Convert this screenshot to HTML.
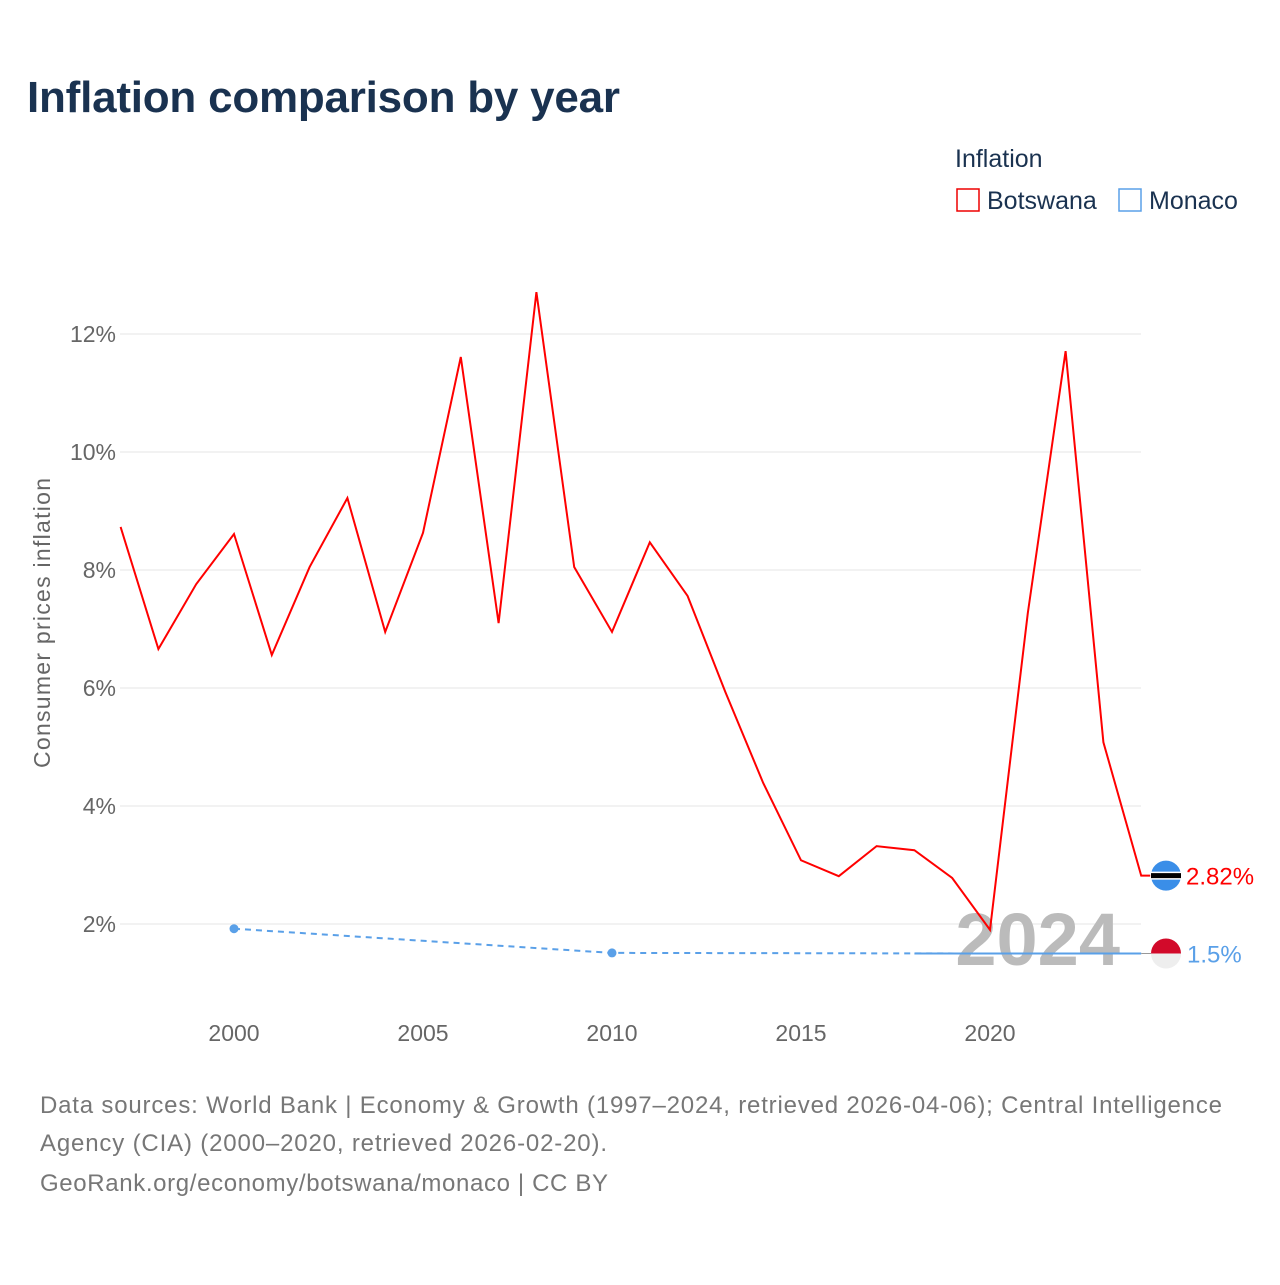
<!DOCTYPE html>
<html><head><meta charset="utf-8"><style>
body{margin:0;background:#fff;font-family:"Liberation Sans",sans-serif}
svg text{font-family:"Liberation Sans",sans-serif}
</style></head><body>
<svg width="1280" height="1280" viewBox="0 0 1280 1280" xmlns="http://www.w3.org/2000/svg">
<rect width="1280" height="1280" fill="#fff"/>
<text x="27" y="112" font-size="44" font-weight="bold" fill="#1a3250" textLength="593">Inflation comparison by year</text>
<g>
<text x="955" y="167" font-size="25" fill="#1a3250">Inflation</text>
<g><rect x="957" y="189" width="22" height="22" fill="none" stroke="#e00" stroke-width="1.5"/><text x="987" y="209" font-size="25" fill="#1a3250">Botswana</text></g>
<g><rect x="1119" y="189" width="22" height="22" fill="none" stroke="#5aa0e8" stroke-width="1.5"/><text x="1149" y="209" font-size="25" fill="#1a3250">Monaco</text></g>
</g>
<g id="grid"></g>
<g id="yticks"></g>
<g id="xticks"></g>
<text transform="translate(50,623) rotate(-90)" text-anchor="middle" font-size="23" fill="#666" textLength="290">Consumer prices inflation</text>
<text x="1120" y="965" text-anchor="end" font-size="74" font-weight="bold" fill="#bbb">2024</text>
<g id="series"></g>
<g font-size="24" fill="#777">
<text x="40" y="1113" textLength="1182">Data sources: World Bank | Economy &amp; Growth (1997–2024, retrieved 2026-04-06); Central Intelligence</text>
<text x="40" y="1151" textLength="567">Agency (CIA) (2000–2020, retrieved 2026-02-20).</text>
<text x="40" y="1191" textLength="568">GeoRank.org/economy/botswana/monaco | CC BY</text>
</g>
</svg>
<script>
const years=[1997,1998,1999,2000,2001,2002,2003,2004,2005,2006,2007,2008,2009,2010,2011,2012,2013,2014,2015,2016,2017,2018,2019,2020,2021,2022,2023,2024];
const botswana=[8.73,6.66,7.76,8.61,6.56,8.05,9.22,6.95,8.63,11.61,7.10,12.71,8.05,6.95,8.47,7.56,5.93,4.39,3.08,2.81,3.32,3.25,2.78,1.90,7.27,11.71,5.08,2.82];
const monacoYears=[2000,2010,2020];
const monaco=[1.92,1.51,1.5];
const yTicks=[2,4,6,8,10,12];
const xTicks=[2000,2005,2010,2015,2020];
const NS="http://www.w3.org/2000/svg";
const X=y=>120.6+(y-1997)*37.8;
const Y=v=>1042-v*59;
function mk(t,a,p){const e=document.createElementNS(NS,t);for(const k in a)e.setAttribute(k,a[k]);p.appendChild(e);return e;}
const grid=document.getElementById('grid'),yt=document.getElementById('yticks'),xt=document.getElementById('xticks'),s=document.getElementById('series');
yTicks.forEach(v=>{
 const l=mk('line',{x1:120,x2:1141,y1:Y(v),y2:Y(v),stroke:'#e6e6e6','stroke-width':1},grid);
 
 
 const t=mk('text',{x:116,y:Y(v)+8,'text-anchor':'end','font-size':23,fill:'#666'},yt);t.textContent=v+'%';
 
 
});
xTicks.forEach(v=>{
 const t=mk('text',{x:X(v),y:1041,'text-anchor':'middle','font-size':23,fill:'#666'},xt);t.textContent=v;
 
 
});
let d=years.map((y,i)=>(i?'L':'M')+X(y)+','+Y(botswana[i])).join(' ');
d+=' L'+(X(2024)+9)+','+Y(botswana[botswana.length-1]);
const bl=mk('path',{d:d,fill:'none',stroke:'#f00','stroke-width':2},s);


const md=monacoYears.map((y,i)=>(i?'L':'M')+X(y)+','+Y(monaco[i])).join(' ');
const ml=mk('path',{d:md,fill:'none',stroke:'#5aa0e8','stroke-width':2,'stroke-dasharray':'6,5'},s);


const last=monaco[monaco.length-1];
const ms=mk('line',{x1:X(2018),x2:X(2024),y1:Y(last),y2:Y(last),stroke:'#5aa0e8','stroke-width':2},s);


const mg=mk('line',{x1:X(2024),x2:1160,y1:Y(last),y2:Y(last),stroke:'#999','stroke-width':1},s);


monacoYears.slice(0,-1).forEach((y,i)=>{const c=mk('circle',{cx:X(y),cy:Y(monaco[i]),r:4.5,fill:'#5aa0e8'},s);
 
 });
const by=Y(botswana[botswana.length-1]),cx=1166;
const f1=mk('g',{},s);


mk('circle',{cx:cx,cy:by,r:15,fill:'#3a8ee8'},f1);
mk('rect',{x:cx-15,y:by-4,width:30,height:8,fill:'#fff'},f1);
mk('rect',{x:cx-15,y:by-2.5,width:30,height:5,fill:'#000'},f1);
const bt=mk('text',{x:1186,y:by+9,'font-size':24,fill:'#f00'},s);bt.textContent=botswana[botswana.length-1].toFixed(2)+'%';


const my=Y(last);
const f2=mk('g',{},s);


mk('path',{d:`M${cx-15},${my} A15,15 0 0 1 ${cx+15},${my} Z`,fill:'#d20a2a'},f2);
mk('path',{d:`M${cx-15},${my} A15,15 0 0 0 ${cx+15},${my} Z`,fill:'#eee'},f2);
const mt=mk('text',{x:1187,y:my+9,'font-size':24,fill:'#5aa0e8'},s);mt.textContent=last+'%';


</script>
</body></html>
